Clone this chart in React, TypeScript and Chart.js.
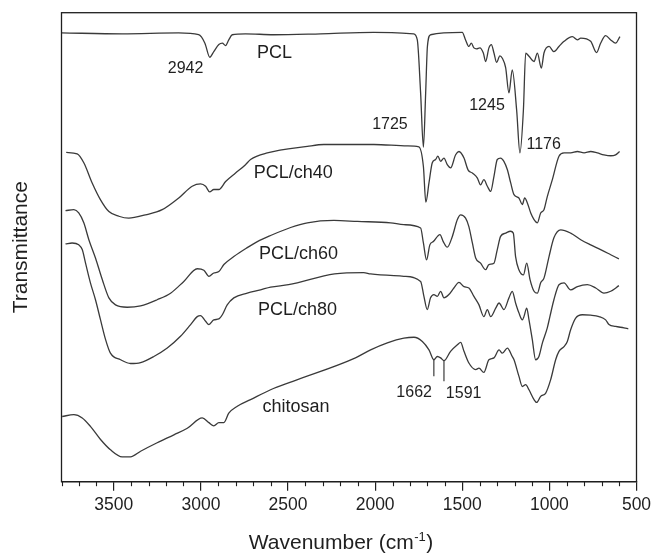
import React, { useEffect, useRef } from 'react';
import { Chart, registerables } from 'chart.js';

Chart.register(...registerables);

const FONT = '"Liberation Sans", Arial, Helvetica, sans-serif';
const INK = '#1f1f1f';
const LINE = '#3a3a3a';

// Wavenumber (cm-1) and transmittance (arbitrary units, spectra stacked with offsets)
const pclWave = [3800, 3452, 3128, 3013, 2977, 2949, 2926, 2897, 2877, 2858, 2840, 2820, 2744, 2583, 2313, 2009, 1779, 1758, 1739, 1723, 1710, 1700, 1682, 1500, 1481, 1462, 1448, 1433, 1418, 1399, 1379, 1366, 1347, 1333, 1318, 1303, 1284, 1270, 1251, 1232, 1213, 1188, 1169, 1149, 1136, 1117, 1088, 1069, 1046, 1031, 1002, 974, 945, 916, 868, 839, 820, 763, 729, 706, 677, 648, 620, 595];
const pclT = [95.7, 95.5, 95.7, 95.3, 93.5, 90.5, 91.7, 93.2, 93.5, 93.0, 94.2, 95.3, 95.5, 95.3, 95.5, 95.8, 95.5, 94.2, 82.9, 71.3, 82.9, 92.8, 95.3, 95.8, 94.2, 92.8, 93.5, 92.5, 92.3, 92.5, 91.4, 89.6, 92.5, 93.2, 91.4, 89.4, 90.8, 90.3, 88.3, 82.9, 87.8, 79.3, 70.1, 79.3, 91.4, 90.7, 89.6, 91.4, 88.2, 91.4, 92.8, 91.7, 92.8, 93.9, 94.9, 94.2, 94.6, 93.9, 91.5, 93.5, 95.1, 94.2, 93.5, 94.9];

const ch40Wave = [3773, 3710, 3672, 3624, 3576, 3528, 3471, 3414, 3318, 3222, 3127, 3050, 3002, 2973, 2950, 2926, 2897, 2858, 2801, 2744, 2715, 2619, 2389, 2294, 2198, 2007, 1815, 1749, 1723, 1709, 1691, 1672, 1653, 1640, 1624, 1605, 1586, 1567, 1538, 1519, 1490, 1467, 1442, 1414, 1395, 1376, 1356, 1337, 1318, 1299, 1280, 1261, 1241, 1222, 1203, 1175, 1155, 1142, 1127, 1107, 1088, 1069, 1050, 1031, 1012, 983, 945, 916, 878, 839, 801, 763, 725, 687, 648, 620, 597];
const ch40T = [70.2, 69.9, 68.0, 63.7, 60.1, 57.6, 56.6, 56.2, 56.9, 58.0, 60.5, 63.0, 63.5, 63.0, 61.8, 62.3, 62.3, 64.0, 65.8, 67.6, 68.7, 70.1, 71.5, 71.9, 71.9, 71.9, 71.6, 71.4, 67.2, 59.6, 63.7, 68.0, 68.7, 69.4, 68.3, 69.0, 67.6, 66.9, 69.7, 70.4, 69.0, 66.5, 65.8, 64.8, 63.3, 64.4, 63.0, 61.9, 65.1, 68.7, 69.0, 68.3, 66.5, 63.7, 61.2, 60.5, 59.1, 60.5, 59.5, 57.3, 55.9, 55.2, 57.3, 58.0, 60.8, 64.4, 69.4, 70.1, 70.1, 70.4, 70.1, 70.4, 70.1, 69.7, 69.5, 69.7, 70.4];

const ch60Wave = [3777, 3729, 3701, 3672, 3643, 3605, 3566, 3528, 3490, 3423, 3346, 3251, 3174, 3098, 3021, 2983, 2954, 2926, 2897, 2868, 2811, 2734, 2676, 2600, 2485, 2389, 2237, 2102, 1911, 1835, 1739, 1723, 1705, 1686, 1666, 1628, 1609, 1586, 1557, 1528, 1509, 1481, 1462, 1442, 1423, 1395, 1366, 1347, 1318, 1299, 1280, 1251, 1223, 1207, 1194, 1175, 1149, 1130, 1111, 1088, 1069, 1050, 1031, 1002, 974, 935, 878, 820, 763, 706, 648, 601];
const ch60T = [57.8, 58.0, 57.3, 55.2, 51.6, 47.7, 43.1, 39.2, 37.7, 37.2, 37.5, 38.8, 40.2, 42.7, 45.4, 45.1, 43.8, 44.5, 44.8, 46.3, 48.0, 49.9, 51.2, 52.5, 54.2, 55.2, 55.7, 55.5, 55.2, 54.8, 54.1, 50.9, 47.3, 50.5, 51.2, 52.7, 51.2, 50.0, 52.3, 55.9, 56.9, 56.2, 54.4, 50.9, 47.7, 46.6, 45.2, 46.3, 46.6, 49.5, 52.3, 53.0, 53.4, 53.0, 48.0, 45.2, 44.1, 46.6, 43.1, 40.6, 40.2, 42.4, 43.4, 48.0, 52.0, 53.7, 53.0, 51.6, 50.5, 49.5, 48.4, 47.5];

const ch80Wave = [3777, 3739, 3701, 3681, 3662, 3634, 3605, 3576, 3547, 3519, 3461, 3404, 3346, 3270, 3193, 3117, 3059, 3021, 3002, 2973, 2954, 2926, 2897, 2877, 2849, 2811, 2734, 2658, 2600, 2497, 2233, 2066, 2026, 1835, 1739, 1720, 1701, 1682, 1663, 1643, 1624, 1605, 1577, 1548, 1519, 1490, 1462, 1433, 1404, 1376, 1356, 1337, 1308, 1289, 1261, 1232, 1213, 1194, 1175, 1155, 1146, 1130, 1117, 1098, 1079, 1060, 1040, 1012, 997, 974, 945, 916, 878, 839, 782, 734, 687, 648, 601];
const ch80T = [50.7, 50.9, 50.5, 49.5, 46.6, 42.4, 38.8, 34.5, 30.3, 27.4, 26.0, 25.2, 25.4, 26.7, 28.5, 31.0, 33.5, 35.2, 35.4, 34.2, 33.5, 34.5, 34.7, 35.6, 37.7, 39.2, 40.2, 40.9, 41.5, 42.0, 44.3, 44.6, 44.3, 43.8, 42.7, 39.5, 36.7, 39.2, 39.9, 39.5, 40.6, 39.2, 39.9, 41.3, 42.5, 41.6, 41.3, 39.5, 37.7, 35.2, 36.7, 35.2, 37.0, 38.1, 36.7, 39.2, 40.6, 38.1, 36.0, 34.5, 35.2, 37.0, 34.5, 30.3, 26.0, 26.7, 29.6, 32.8, 35.2, 38.8, 42.0, 42.4, 40.9, 41.6, 42.0, 41.3, 40.2, 40.6, 41.8];

const chitosanWave = [3796, 3729, 3681, 3634, 3576, 3519, 3452, 3404, 3346, 3251, 3155, 3078, 2992, 2954, 2926, 2897, 2868, 2840, 2791, 2715, 2600, 2472, 2113, 2026, 1930, 1835, 1777, 1729, 1691, 1663, 1643, 1624, 1605, 1567, 1528, 1509, 1490, 1462, 1423, 1404, 1376, 1347, 1318, 1289, 1270, 1241, 1213, 1203, 1175, 1155, 1136, 1117, 1088, 1073, 1050, 1021, 993, 964, 945, 916, 897, 878, 849, 811, 763, 715, 677, 658, 620, 572, 547];
const chitosanT = [13.9, 14.3, 13.6, 11.8, 9.0, 6.8, 5.3, 5.3, 6.5, 8.3, 10.0, 11.4, 13.6, 12.6, 11.9, 12.6, 12.6, 14.6, 16.1, 17.5, 19.6, 21.4, 26.4, 28.1, 29.6, 30.6, 30.8, 29.9, 28.1, 26.0, 26.7, 26.4, 25.8, 27.8, 29.2, 29.7, 27.8, 25.3, 23.9, 24.2, 23.3, 26.0, 26.4, 28.1, 27.4, 28.5, 26.7, 26.0, 22.5, 20.3, 20.7, 19.6, 17.5, 16.9, 18.2, 18.9, 21.7, 26.0, 27.8, 28.8, 29.9, 32.4, 34.9, 35.6, 35.5, 35.2, 34.5, 33.5, 33.1, 32.8, 32.6];

// Peak marker ticks under the chitosan spectrum
const peakMarkWave = [1663, 1605];
const peakMarkTop = [26.0, 25.8];
const peakMarkBottom = [22.5, 21.4];

// Annotation texts and their anchor (wavenumber, transmittance)
const annoText = ['2942', 'PCL', '1725', '1245', '1176', 'PCL/ch40', 'PCL/ch60', 'PCL/ch80', 'chitosan', '1662', '1591'];
const annoWave = [3088, 2578, 1915, 1358, 1033, 2470, 2440, 2446, 2454, 1776, 1492];
const annoT = [88.0, 91.3, 76.1, 80.1, 71.8, 65.8, 48.5, 36.6, 16.0, 19.0, 18.8];

const xTickValues = [3500, 3000, 2500, 2000, 1500, 1000, 500];
const X_MIN = 500;
const X_MAX = 3800;

const zip = (w: number[], t: number[]) =>
  w.slice(0, Math.min(w.length, t.length)).map((x, i) => ({ x, y: t[i] }));

const framePlugin = {
  id: 'frame',
  afterDraw(chart: any) {
    const { ctx, chartArea } = chart;
    const { left, right, top, bottom } = chartArea;
    const xs = chart.scales.x;
    const ys = chart.scales.y;
    ctx.save();
    ctx.strokeStyle = INK;
    ctx.lineWidth = 1.3;
    ctx.strokeRect(left, top, right - left, bottom - top);

    // minor ticks every 100 cm-1
    ctx.lineWidth = 1.1;
    for (let v = X_MAX; v >= X_MIN; v -= 100) {
      if (v % 500 === 0) continue;
      const px = Math.round(xs.getPixelForValue(v)) + 0.5;
      ctx.beginPath();
      ctx.moveTo(px, bottom);
      ctx.lineTo(px, bottom + 4.5);
      ctx.stroke();
    }

    // in-plot annotations
    ctx.fillStyle = INK;
    ctx.textAlign = 'center';
    ctx.textBaseline = 'middle';
    annoText.forEach((t, i) => {
      const numeric = /^\d+$/.test(t);
      ctx.font = `${numeric ? 16 : 18}px ${FONT}`;
      ctx.fillText(t, xs.getPixelForValue(annoWave[i]), ys.getPixelForValue(annoT[i]));
    });

    // x axis title with superscript
    const mainFont = `21px ${FONT}`;
    const supFont = `13px ${FONT}`;
    const p1 = 'Wavenumber (cm';
    const p2 = '-1';
    const p3 = ')';
    ctx.font = mainFont;
    const w1 = ctx.measureText(p1).width;
    const w3 = ctx.measureText(p3).width;
    ctx.font = supFont;
    const w2 = ctx.measureText(p2).width;
    const total = w1 + w2 + w3 + 1;
    const cx = (left + right) / 2 - 8;
    const baseY = chart.height - 4.5;
    let xPos = cx - total / 2;
    ctx.textAlign = 'left';
    ctx.textBaseline = 'alphabetic';
    ctx.font = mainFont;
    ctx.fillText(p1, xPos, baseY);
    xPos += w1 + 0.5;
    ctx.font = supFont;
    ctx.fillText(p2, xPos, baseY - 8);
    xPos += w2 + 0.5;
    ctx.font = mainFont;
    ctx.fillText(p3, xPos, baseY);
    ctx.restore();
  },
};

export default function App() {
  const canvasRef = useRef<HTMLCanvasElement>(null);

  useEffect(() => {
    const canvas = canvasRef.current;
    if (!canvas) return;
    Chart.defaults.font.family = FONT;
    const spectrum = (label: string, w: number[], t: number[]) => ({
      label,
      data: zip(w, t),
      borderColor: LINE,
      borderWidth: 1.3,
      pointRadius: 0,
      fill: false,
      cubicInterpolationMode: 'monotone' as const,
    });
    const marker = (i: number) => ({
      label: `mark${i}`,
      data: [
        { x: peakMarkWave[i], y: peakMarkTop[i] },
        { x: peakMarkWave[i], y: peakMarkBottom[i] },
      ],
      borderColor: LINE,
      borderWidth: 1.2,
      pointRadius: 0,
      fill: false,
    });

    const chart = new Chart(canvas, {
      type: 'line',
      data: {
        datasets: [
          spectrum('PCL', pclWave, pclT),
          spectrum('PCL/ch40', ch40Wave, ch40T),
          spectrum('PCL/ch60', ch60Wave, ch60T),
          spectrum('PCL/ch80', ch80Wave, ch80T),
          spectrum('chitosan', chitosanWave, chitosanT),
          marker(0),
          marker(1),
        ],
      },
      options: {
        responsive: false,
        animation: false,
        devicePixelRatio: 1,
        layout: { padding: { left: 0, right: 19.5, top: 12.7, bottom: 0 } },
        plugins: { legend: { display: false }, tooltip: { enabled: false } },
        scales: {
          x: {
            type: 'linear',
            reverse: true,
            min: X_MIN,
            max: X_MAX,
            afterBuildTicks: (s: any) => {
              s.ticks = [...xTickValues].sort((a, b) => a - b).map((v) => ({ value: v }));
            },
            afterFit: (s: any) => {
              s.height = 71.3;
            },
            ticks: {
              font: { family: FONT, size: 17.5 },
              color: INK,
              padding: 3.5,
              maxRotation: 0,
              autoSkip: false,
              callback: (v: any) => String(v),
            },
            grid: {
              drawOnChartArea: false,
              drawTicks: true,
              tickLength: 9,
              color: INK,
              lineWidth: 1.2,
            },
            border: { display: true, color: INK, width: 1.3 },
          },
          y: {
            type: 'linear',
            min: 0,
            max: 100,
            afterFit: (s: any) => {
              s.width = 61.5;
            },
            ticks: { display: false },
            grid: { display: false },
            border: { display: false },
            title: {
              display: true,
              text: 'Transmittance',
              font: { family: FONT, size: 21 },
              color: INK,
              padding: { top: 9, bottom: 0 },
            },
          },
        },
      },
      plugins: [framePlugin],
    } as any);

    return () => chart.destroy();
  }, []);

  return (
    <div style={{ position: 'fixed', left: 0, top: 0, width: 656, height: 553, background: '#ffffff' }}>
      <canvas ref={canvasRef} width={656} height={553} style={{ display: 'block', width: 656, height: 553 }} />
    </div>
  );
}
